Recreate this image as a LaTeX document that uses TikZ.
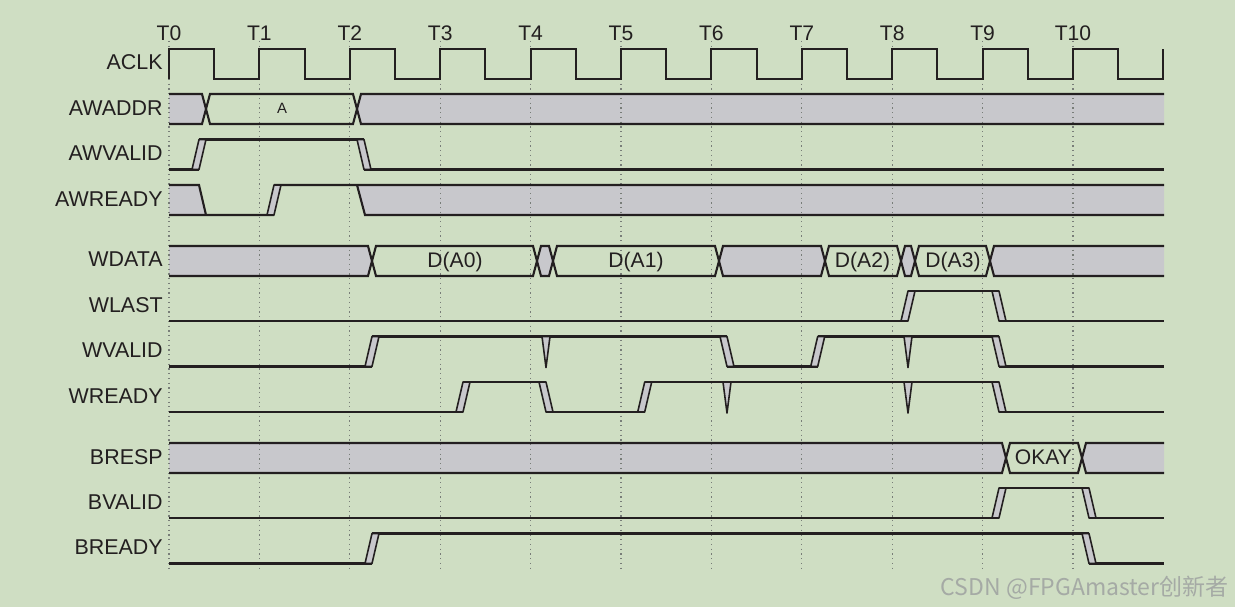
\documentclass[tikz,border=0pt]{standalone}
\usepackage{fontspec}
\setmainfont{Liberation Sans}
\newfontfamily\cjk{Noto Sans CJK SC}
\usepackage{xcolor}
\definecolor{bgc}{RGB}{207,222,195}
\definecolor{busgray}{RGB}{200,200,204}
\definecolor{ink}{RGB}{35,31,32}
\definecolor{gridc}{RGB}{120,125,120}
\definecolor{wmc}{RGB}{165,170,165}
\tikzset{
  sig/.style={draw=ink,line width=1.2pt},
  slope/.style={draw=ink,fill=busgray,line width=0.9pt,line join=round},
  busfill/.style={fill=busgray},
  tgrid/.style={draw=gridc,dotted,line width=0.7pt},
  sname/.style={anchor=base east,inner sep=0pt,text=ink,font=\fontsize{12.2}{14}\selectfont},
  tlab/.style={anchor=base,inner sep=0pt,text=ink,font=\fontsize{12}{14}\selectfont}
}

\begin{document}
\begin{tikzpicture}[x=0.02cm,y=-0.02cm]
\fill[bgc](0,0)rectangle(1235,607);
\fill[busfill](169,94)--(202,94)--(206,109)--(202,124)--(169,124)--cycle;
\fill[busfill](361,94)--(1164,94)--(1164,124)--(361,124)--(357,109)--cycle;
\fill[busfill](169,185)--(199,185)--(206,215)--(169,215)--cycle;
\fill[busfill](357,185)--(1164,185)--(1164,215)--(365,215)--cycle;
\fill[busfill](169,246)--(368,246)--(372,261)--(368,276)--(169,276)--cycle;
\fill[busfill](537,261)--(541,246)--(549,246)--(553,261)--(549,276)--(541,276)--cycle;
\fill[busfill](719,261)--(723,246)--(821,246)--(825,261)--(821,276)--(723,276)--cycle;
\fill[busfill](901,261)--(905,246)--(911,246)--(915,261)--(911,276)--(905,276)--cycle;
\fill[busfill](990,261)--(994,246)--(1164,246)--(1164,276)--(994,276)--cycle;
\fill[busfill](169,443)--(1002,443)--(1006,458)--(1002,473)--(169,473)--cycle;
\fill[busfill](1086,443)--(1164,443)--(1164,473)--(1086,473)--(1082,458)--cycle;
\foreach \i [evaluate=\i as \tx using 169+90.4*\i] in {0,...,10}{
  \draw[tgrid](\tx,41)--(\tx,568);
  \node[tlab](t\i) at(\tx,40.5){T\i};
}
\draw[sig](169,79)\foreach \i in {0,...,10}{--++(0,-30)--++(45.2,0)--++(0,30)--++(45.2,0)}--++(0,-30);
\draw[sig](169,94)--(202,94)--(210,124)--(353,124)--(361,94)--(1164,94);
\draw[sig](169,124)--(202,124)--(210,94)--(353,94)--(361,124)--(1164,124);
\draw[sig](169,169.5)--(199,169.5)(199,139.5)--(364,139.5)(364,169.5)--(1164,169.5);
\draw[sig](169,185)--(199,185)--(206,215)(169,215)--(274,215)(274,185)--(1164,185)(357,185)--(365,215)--(1164,215);
\draw[sig](169,246)--(368,246)--(376,276)--(533,276)--(541,246)--(549,246)--(557,276)--(715,276)--(723,246)--(821,246)--(829,276)--(897,276)--(905,246)--(911,246)--(919,276)--(986,276)--(994,246)--(1164,246);
\draw[sig](169,276)--(368,276)--(376,246)--(533,246)--(541,276)--(549,276)--(557,246)--(715,246)--(723,276)--(821,276)--(829,246)--(897,246)--(905,276)--(911,276)--(919,246)--(986,246)--(994,276)--(1164,276);
\draw[sig](169,321)--(908,321)(908,291)--(999,291)(999,321)--(1164,321);
\draw[sig](169,366.5)--(372,366.5)(372,336.5)--(727,336.5)(727,366.5)--(817.7,366.5)(817.7,336.5)--(999,336.5)(999,366.5)--(1164,366.5);
\draw[sig](169,412)--(463,412)(463,382)--(546,382)(546,412)--(644.7,412)(644.7,382)--(999,382)(999,412)--(1164,412);
\draw[sig](169,443)--(1002,443)--(1010,473)--(1078,473)--(1086,443)--(1164,443);
\draw[sig](169,473)--(1002,473)--(1010,443)--(1078,443)--(1086,473)--(1164,473);
\draw[sig](169,518)--(999,518)(999,488)--(1089,488)(1089,518)--(1164,518);
\draw[sig](169,563.5)--(372,563.5)(372,533.5)--(1089,533.5)(1089,563.5)--(1164,563.5);
\foreach \x/\y in {192/169.5,267/215,901/321,365/366.5,810.7/366.5,456/412,637.7/412,992/518,365/563.5}
  \draw[slope](\x,\y)--++(7,0)--++(7,-30)--++(-7,0)--cycle;
\foreach \x/\y in {357/139.5,992/291,720/336.5,992/336.5,539/382,992/382,1082/488,1082/533.5}
  \draw[slope](\x,\y)--++(7,0)--++(7,30)--++(-7,0)--cycle;
\foreach \x/\y in {546/336.5,908/336.5,727/382,908/382}
  \draw[slope](\x-4,\y)--(\x+4,\y)--(\x,\y+31)--cycle;
\node[sname](aclk) at(163,70){ACLK};
\node[sname](awaddr) at(163,115.5){AWADDR};
\node[sname](awvalid) at(163,161){AWVALID};
\node[sname](awready) at(163,206.5){AWREADY};
\node[sname](wdata) at(163,266.5){WDATA};
\node[sname](wlast) at(163,312.5){WLAST};
\node[sname](wvalid) at(163,358){WVALID};
\node[sname](wready) at(163,403.5){WREADY};
\node[sname](bresp) at(163,465){BRESP};
\node[sname](bvalid) at(163,509.5){BVALID};
\node[sname](bready) at(163,555){BREADY};
\node[tlab,font=\fontsize{8.5}{10}\selectfont](addr) at(282,114){A};
\node[tlab](da0) at(455,267.5){D(A0)};
\node[tlab](da1) at(636,267.5){D(A1)};
\node[tlab](da2) at(862.5,267.5){D(A2)};
\node[tlab](da3) at(953,267.5){D(A3)};
\node[tlab](okay) at(1043.5,464.5){OKAY};
\node[anchor=base east,inner sep=0pt,text=wmc,font=\cjk\fontsize{13.1}{15}\selectfont](wm) at(1229,596){CSDN @FPGAmaster创新者};
\end{tikzpicture}
\end{document}
